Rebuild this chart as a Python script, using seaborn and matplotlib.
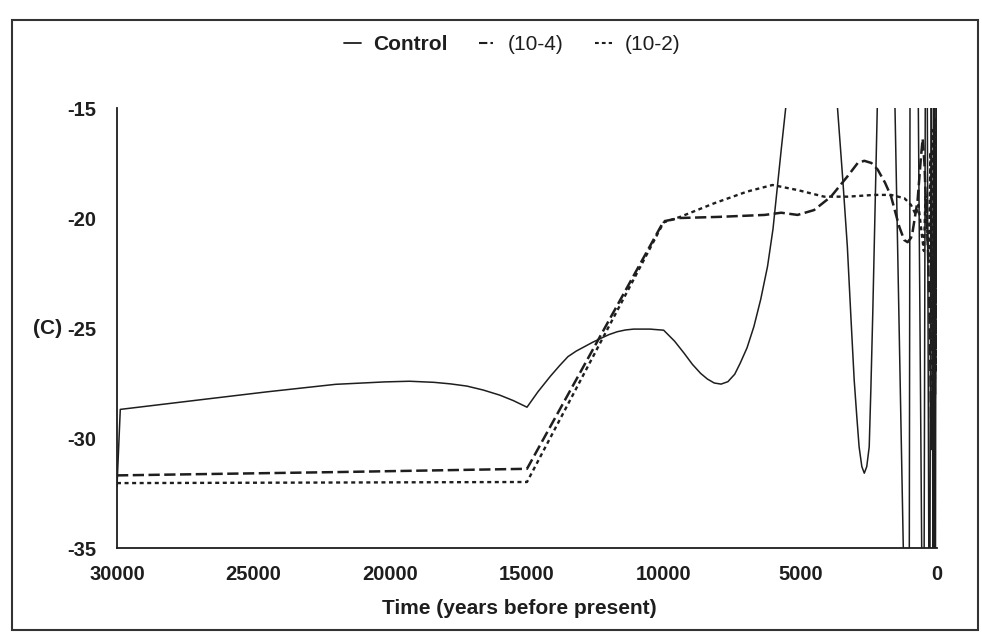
import numpy as np
import pandas as pd
import seaborn as sns
import matplotlib.pyplot as plt
from matplotlib.lines import Line2D
from matplotlib.patches import Rectangle

# ---------------- data ----------------
ctrl_years = [30000, 29880, 27000, 24500, 22000, 20200, 19300, 18400, 17800, 17200, 16600, 16000, 15500, 15000,
              14600, 14150, 13800, 13500, 13200, 12900, 12600, 12300, 12000, 11700, 11400, 11100, 10500, 10000,
              9600, 9250, 8950, 8650, 8400, 8150, 7900, 7650, 7400, 7200, 6950, 6700, 6450, 6200, 6000,
              5850, 5700, 5530, 5300, 3850, 3640, 3450, 3280, 3150,
              3030, 2930, 2850, 2750, 2660, 2570, 2480, 2420, 2350, 2185, 2050, 1650, 1537, 1233,
              1150, 1050, 1013, 988, 940, 730, 683, 560, 520, 490,
              470, 430, 400, 370, 354, 300, 285, 270, 256, 220,
              210, 200, 195, 150, 145, 140, 135, 115, 110, 105,
              100, 73, 68, 60, 55, 35, 30, 20, 15, 0]
ctrl_temp = [-32.2, -28.7, -28.27, -27.9, -27.56, -27.45, -27.42, -27.47, -27.54, -27.64, -27.82, -28.05, -28.3, -28.6,
             -27.9, -27.2, -26.7, -26.3, -26.05, -25.85, -25.65, -25.47, -25.3, -25.17, -25.09, -25.05, -25.05, -25.1,
             -25.6, -26.15, -26.65, -27.06, -27.32, -27.5, -27.55, -27.44, -27.1, -26.6, -25.9, -24.94, -23.7, -22.2, -20.5,
             -18.7, -16.9, -14.94, -11.0, -11.0, -15.0, -18.2, -21.3, -24.5,
             -27.36, -29.1, -30.4, -31.3, -31.6, -31.3, -30.4, -27.8, -24.33, -15.0, -8.0, -8.0, -15.0, -35.0,
             -45.0, -45.0, -35.0, -15.0, -5.0, -5.0, -15.0, -35.0, -45.0, -45.0,
             -35.0, -15.0, -5.0, -5.0, -15.0, -35.0, -45.0, -45.0, -35.0, -15.0,
             -5.0, -5.0, -15.0, -35.0, -45.0, -45.0, -35.0, -15.0, -5.0, -5.0,
             -15.0, -35.0, -45.0, -45.0, -35.0, -15.0, -5.0, -5.0, -15.0, -20.0]

e4_years = [30000, 22000, 15000, 10000, 9400, 8000, 6300, 5700, 5100, 4500,
            3880, 3270, 2900, 2660, 2400, 2170, 1900, 1685, 1380, 1200,
            1075, 950, 890, 800, 710, 585, 525, 460, 400, 330,
            280, 240, 200, 170, 140, 115, 90, 65, 45, 25, 10, 0]
e4_temp = [-31.7, -31.55, -31.4, -20.15, -20.0, -19.95, -19.86, -19.76, -19.86, -19.64,
           -19.03, -18.1, -17.5, -17.4, -17.5, -17.8, -18.4, -19.0, -20.4, -21.0,
           -21.1, -20.9, -20.6, -19.9, -19.2, -17.2, -16.4, -17.5, -19.5, -21.5,
           -24.0, -27.0, -30.5, -28.0, -22.0, -27.0, -31.0, -24.0, -20.0, -26.0, -19.0, -15.5]

e2_years = [30000, 15000, 10000, 9400, 8150, 6950, 6020, 5100, 4130, 3270,
            2290, 1685, 1195, 955, 770, 680, 560, 480, 420, 360,
            300, 240, 190, 150, 120, 95, 70, 50, 30, 15, 0]
e2_temp = [-32.05, -32.0, -20.2, -19.95, -19.33, -18.8, -18.5, -18.73, -19.03, -19.03,
           -18.95, -18.95, -19.1, -19.4, -19.86, -19.4, -20.7, -21.5, -19.0, -20.5,
           -22.0, -17.0, -26.0, -16.0, -29.0, -17.0, -28.0, -15.5, -27.0, -16.0, -20.0]

series_names = ["Control", "(10-4)", "(10-2)"]
x_ticks = [30000, 25000, 20000, 15000, 10000, 5000, 0]
x_tick_labels = ["30000", "25000", "20000", "15000", "10000", "5000", "0"]
y_ticks = [-35, -30, -25, -20, -15]
y_tick_labels = ["-35", "-30", "-25", "-20", "-15"]

# ---------------- figure ----------------
sns.set_theme(style="white")
plt.rcParams['font.family'] = ['Liberation Sans', 'DejaVu Sans']

W, H = 982, 634
fig = plt.figure(figsize=(W / 100, H / 100), dpi=100)
ax = fig.add_axes([117 / W, 1 - 548 / H, 820 / W, 440 / H])

ink = "#1e1e1e"
df_c = pd.DataFrame({"year": ctrl_years, "temp": ctrl_temp})
df_4 = pd.DataFrame({"year": e4_years, "temp": e4_temp})
df_2 = pd.DataFrame({"year": e2_years, "temp": e2_temp})

sns.lineplot(data=df_c, x="year", y="temp", ax=ax, color=ink, lw=1.1,
             sort=False, estimator=None, legend=False)
sns.lineplot(data=df_4, x="year", y="temp", ax=ax, color=ink, lw=1.8,
             sort=False, estimator=None, legend=False)
ax.lines[-1].set_dashes((4.5, 1.8))
sns.lineplot(data=df_2, x="year", y="temp", ax=ax, color=ink, lw=1.7,
             sort=False, estimator=None, legend=False)
ax.lines[-1].set_dashes((1.7, 1.5))

ax.set_xlim(30000, 0)
ax.set_ylim(-35, -15)
ax.set_xticks(x_ticks)
ax.set_xticklabels(x_tick_labels)
ax.set_yticks(y_ticks)
ax.set_yticklabels(y_tick_labels)

for s in ["top", "right"]:
    ax.spines[s].set_visible(False)
for s in ["left", "bottom"]:
    ax.spines[s].set_color(ink)
    ax.spines[s].set_linewidth(1.3)

ax.tick_params(axis="both", direction="inout", length=12, width=1.2, color=ink,
               labelsize=14.5, labelcolor=ink)
ax.tick_params(axis="y", pad=9)
ax.tick_params(axis="x", pad=6)
for lab in ax.get_xticklabels() + ax.get_yticklabels():
    lab.set_fontweight("bold")

ax.set_xlabel("Time (years before present)", fontsize=15, fontweight="bold", color=ink)
ax.xaxis.set_label_coords(0.491, -0.115)
ax.set_ylabel("(C)", fontsize=15, fontweight="bold", color=ink, rotation=0,
              va="center", ha="center")
ax.yaxis.set_label_coords(-0.085, 0.5)

handles = [
    Line2D([], [], color=ink, lw=1.3),
    Line2D([], [], color=ink, lw=1.5, dashes=(4, 1.5, 1.2, 1.5)),
    Line2D([], [], color=ink, lw=1.5, dashes=(1.8, 1.5)),
]
leg = fig.legend(handles, series_names, loc="center",
                 bbox_to_anchor=((512 / W), 1 - 45 / H),
                 ncol=3, frameon=False, fontsize=15, handlelength=0.8,
                 handletextpad=0.6, columnspacing=1.5)
for i, t in enumerate(leg.get_texts()):
    t.set_color(ink)
    if i == 0:
        t.set_fontweight("bold")

fig.patches.append(Rectangle((12 / W, 1 - 630 / H), (978 - 12) / W, (630 - 20) / H,
                             transform=fig.transFigure, fill=False, lw=1.5, ec="#333333"))

fig.savefig("out.png", dpi=100, facecolor="white")
